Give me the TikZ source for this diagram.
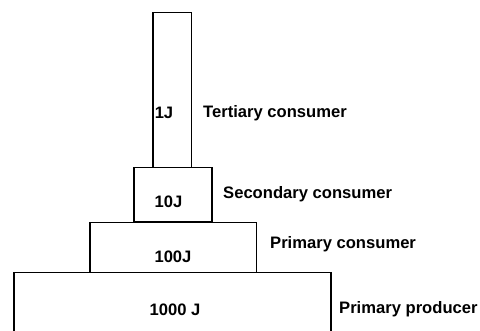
\documentclass[tikz,border=0pt]{standalone}
\usepackage{fontspec}
\setmainfont{Liberation Sans}
\usetikzlibrary{positioning}

\begin{document}
\begin{tikzpicture}[x=1pt, y=-1pt,
  every node/.style = {inner sep=0pt, font=\bfseries\fontsize{16.6}{19}\selectfont},
  level/.style = {shape=rectangle, draw, line width=1.5pt, anchor=north west},
  trophic/.style = {anchor=west}]
  \useasboundingbox (0,0) rectangle (480,331);
  \clip (0,0) rectangle (480,331);
  % pyramid levels
  \node[level, minimum width=38.5pt, minimum height=155pt] (tertiary) at (152,12) {};
  \node[level, minimum width=78pt, minimum height=54.5pt] (secondary) at (133,167) {};
  \node[level, minimum width=166.5pt, minimum height=50pt] (primary) at (89,222) {};
  \node[level, minimum width=317pt, minimum height=90pt] (producer) at (13,272) {};
  % energy in each level
  \node (e1) at (164,113) {1J};
  \node (e10) at (168.5,202) {10J};
  \node (e100) at (173,257) {100J};
  \node (e1000) at (175,310) {1000 J};
  % names of the levels
  \node[trophic] (tert) at (203,113) {Tertiary consumer};
  \node[trophic] (sec) at (223,194) {Secondary consumer};
  \node[trophic] (prim) at (270,244) {Primary consumer};
  \node[trophic] (prod) at (339,309) {Primary producer};
\end{tikzpicture}
\end{document}
